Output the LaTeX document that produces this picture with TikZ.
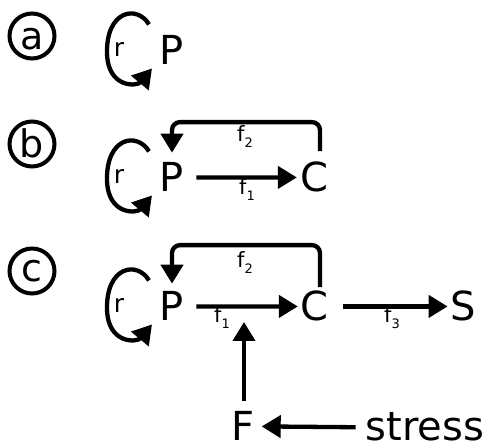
\documentclass[tikz,border=0pt]{standalone}
\usepackage{fontspec}
\setmainfont{DejaVu Sans}
\usetikzlibrary{arrows.meta,calc}
\newcommand\fsub[1]{f\raisebox{-6pt}{\fontsize{13}{13}\selectfont #1}}
\newcommand\rloop[1]{%
  \draw[arr] ($(#1)+(-23,-26)$) .. controls ($(#1)+(-35,-46)$) and ($(#1)+(-66,-40)$) .. ($(#1)+(-65,3)$)
     .. controls ($(#1)+(-64,38)$) and ($(#1)+(-35,36)$) .. ($(#1)+(-20,18)$);
  \node[rl] at ($(#1)+(-53,-1)$) {r};}
\begin{document}
\begin{tikzpicture}[x=1pt,y=-1pt,
  big/.style={inner sep=0pt,anchor=base,font=\fontsize{40}{40}\selectfont},
  arr/.style={line width=4.3pt,-{Triangle[length=19pt,width=22pt]}},
  circ/.style={circle,draw,line width=4pt,minimum size=45pt,inner sep=0pt},
  clet/.style={inner sep=0pt,anchor=base,font=\fontsize{38}{38}\selectfont},
  sm/.style={inner sep=0pt,anchor=base west,font=\fontsize{21}{21}\selectfont},
  rl/.style={inner sep=0pt,font=\fontsize{25}{25}\selectfont}]
\useasboundingbox (0,0) rectangle (491,446);

% (a)
\node[circ] (ca) at (32,36) {};
\node[clet] (la) at (32,50) {a};
\node[big] (Pa) at (172,65) {P};
\rloop{Pa}

% (b)
\node[circ] (cb) at (32,144) {};
\node[clet] (lb) at (32,158) {b};
\node[big] (Pb) at (172,192) {P};
\node[big] (Cb) at (314,192) {C};
\rloop{Pb}
\draw[arr] ([xshift=12pt]Pb.east) -- ([xshift=-3pt]Cb.west);
\draw[arr,rounded corners=8pt] ([xshift=6pt,yshift=11pt]Cb.north) -- ++(0,-29) -| ([yshift=10pt]Pb.north);
\node[sm] (f2b) at (237,142) {\fsub{2}};
\node[sm] (f1b) at (239,195) {\fsub{1}};

% (c)
\node[circ] (cc) at (32,271) {};
\node[clet] (lc) at (32,282) {c};
\node[big] (Pc) at (172,321) {P};
\node[big] (Cc) at (314,321) {C};
\node[big] (Sc) at (463,321) {S};
\node[big] (F) at (243,441) {F};
\node[big] (st) at (425,441) {stress};
\rloop{Pc}
\draw[arr] ([xshift=12pt]Pc.east) -- ([xshift=-2pt]Cc.west);
\draw[arr] ([xshift=15pt]Cc.east) -- ([xshift=-2.5pt]Sc.west);
\draw[arr,rounded corners=8pt] ([xshift=6pt,yshift=4pt]Cc.north) -- ++(0,-42) -| ([yshift=8pt]Pc.north);
\coordinate (j) at (244,322);
\draw[arr] (j |- F.north) ++(0,-11) -- (j);
\draw[arr] ([xshift=-10pt]st.west) -- ([xshift=7pt]F.east);
\node[sm] (f2c) at (237,268) {\fsub{2}};
\node[sm] (f1c) at (214,323) {\fsub{1}};
\node[sm] (f3c) at (384,323) {\fsub{3}};
\end{tikzpicture}
\end{document}
